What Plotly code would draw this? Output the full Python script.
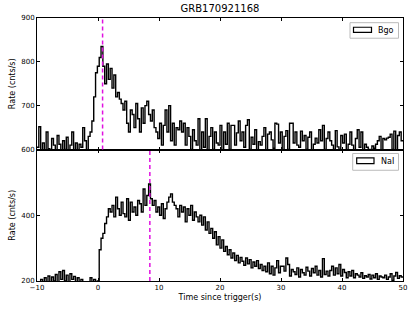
import plotly.graph_objects as go
from plotly.subplots import make_subplots

# ---- data ----
title_text = "GRB170921168"
bin_start = -10.0
bin_width = 0.3
bgo_peak_time = 0.75
nai_peak_time = 8.5

bgo_rate = [
    605, 652, 598, 615, 590, 640, 602, 588, 625, 610,
    595, 632, 612, 585, 620, 600, 628, 592, 610, 640,
    598, 615, 590, 612, 605, 650, 620, 595, 630, 640,
    665, 720, 775, 790, 810, 835, 790, 750, 795, 760,
    785, 740, 770, 720, 730, 715, 705, 690, 710, 660,
    640, 690, 680, 650, 705, 670, 640, 695, 660, 700,
    710, 680, 665, 690, 650, 640, 625, 660, 610, 655,
    690, 640, 700, 620, 660, 610, 650, 645, 665, 640,
    660, 610, 650, 630, 600, 645, 620, 610, 670, 595,
    640, 605, 670, 598, 630, 650, 600, 640, 615, 610,
    655, 590, 640, 612, 660, 600, 655, 655, 610, 638,
    665, 620, 640, 605, 655, 668, 600, 628, 612, 645,
    590, 618, 610, 630, 650, 598, 635, 640, 622, 603,
    660, 658, 615, 640, 595, 630, 643, 600, 660, 660,
    615, 640, 610, 605, 642, 620, 632, 600, 628, 640,
    597, 612, 626, 615, 645, 620, 655, 600, 625, 640,
    620, 610, 600, 643, 606, 600, 632, 615, 635, 590,
    612, 640, 610, 598, 625, 645, 605, 640, 598, 612,
    605, 600, 592, 608, 603, 612, 620, 630, 598, 625,
    622, 626, 628, 635, 600, 642, 598, 632, 640, 620,
]

nai_rate = [
    195, 188, 205, 192, 210, 198, 215, 190, 212, 200,
    220, 195, 228, 205, 232, 200, 218, 196, 222, 205,
    214, 198, 210, 190, 205, 198, 188, 192, 185, 210,
    195, 205, 190, 200, 295, 330, 345, 375, 395, 420,
    410, 430, 395, 455, 420, 400, 440, 405, 395, 450,
    385, 440, 410, 425, 400, 445, 435, 410, 480, 430,
    460, 495, 450, 430, 445, 410, 425, 400, 435, 390,
    420, 440, 455, 465, 440, 430, 420, 395, 430, 410,
    425, 380, 420, 400, 430, 385, 410, 395, 380, 400,
    370, 395, 355, 380, 345, 360, 330, 350, 310, 335,
    300, 325, 290, 305, 280, 295, 270, 285, 262, 278,
    255, 272, 260, 248, 270, 252, 265, 240, 258, 245,
    262, 238, 250, 232, 245, 228, 255, 222, 245, 218,
    240, 262, 225, 245, 245, 230, 270, 250, 215, 235,
    228, 220, 240, 212, 235, 225, 218, 242, 230, 215,
    238, 225, 245, 218, 232, 212, 268, 220, 230, 215,
    232, 245, 218, 240, 222, 250, 215, 235, 226, 210,
    228, 215, 232, 210, 222, 218, 212, 225, 208, 216,
    212, 220, 206, 218, 210, 222, 205, 215, 212, 210,
    218, 205, 212, 222, 202, 215, 226, 208, 216, 212,
]

x_ticks = [-10, 0, 10, 20, 30, 40, 50]
x_tick_labels = ["\u221210", "0", "10", "20", "30", "40", "50"]
bgo_ticks = [600, 700, 800, 900]
nai_ticks = [200, 400]
x_label = "Time since trigger(s)"
y_label = "Rate (cnts/s)"

# ---- build step coordinates ----
def edges(n):
    return [bin_start + i * bin_width for i in range(n + 1)]

bgo_x = edges(len(bgo_rate))
bgo_y = bgo_rate + [bgo_rate[-1]]
nai_x = edges(len(nai_rate))
nai_y = nai_rate + [nai_rate[-1]]

FONT = "DejaVu Sans"
fig = make_subplots(rows=2, cols=1, vertical_spacing=0)

fig.add_trace(go.Scatter(x=bgo_x, y=bgo_y, mode="lines", line=dict(color="black", width=1.4, shape="hv"),
                         name="Bgo", showlegend=False, hoverinfo="skip"), row=1, col=1)
fig.add_trace(go.Scatter(x=nai_x, y=nai_y, mode="lines", line=dict(color="black", width=1.4, shape="hv"),
                         name="NaI", showlegend=False, hoverinfo="skip"), row=2, col=1)

axis_common = dict(showline=True, linecolor="black", linewidth=1, mirror="ticks", ticks="inside",
                   ticklen=3, tickcolor="black", showgrid=False, zeroline=False, automargin=False,
                   tickfont=dict(family=FONT, size=7, color="black"))

fig.update_xaxes(range=[-10, 50], tickvals=x_ticks, ticktext=x_tick_labels, **axis_common)
fig.update_xaxes(showticklabels=False, row=1, col=1)
fig.update_xaxes(title=dict(text=x_label, font=dict(family=FONT, size=8, color="black"), standoff=2), row=2, col=1)
fig.update_yaxes(range=[600, 900], tickvals=bgo_ticks, row=1, col=1, **axis_common)
fig.update_yaxes(range=[200, 600], tickvals=nai_ticks, row=2, col=1, **axis_common)
fig.update_yaxes(title=dict(text=y_label, font=dict(family=FONT, size=8, color="black"), standoff=4))

# dashed peak markers
fig.add_shape(type="line", xref="x", yref="y domain", x0=bgo_peak_time, x1=bgo_peak_time, y0=0, y1=1,
              line=dict(color="#e010e0", width=1.5, dash="4px,3px"))
fig.add_shape(type="line", xref="x2", yref="y2 domain", x0=nai_peak_time, x1=nai_peak_time, y0=0, y1=1,
              line=dict(color="#e010e0", width=1.5, dash="4px,3px"))

# legends drawn as boxes with patch and text
def legend_box(xr, yr, label, box, patch, tx):
    fig.add_shape(type="rect", xref=xr, yref=yr, x0=box[0], x1=box[1], y0=box[2], y1=box[3],
                  line=dict(color="#bbbbbb", width=1), fillcolor="white", layer="above")
    fig.add_shape(type="rect", xref=xr, yref=yr, x0=patch[0], x1=patch[1], y0=patch[2], y1=patch[3],
                  line=dict(color="black", width=1.2), fillcolor="white", layer="above")
    fig.add_annotation(xref=xr, yref=yr, x=tx[0], y=tx[1], text=label, showarrow=False, xanchor="left",
                       yanchor="middle", font=dict(family=FONT, size=8, color="black"))

# pixel-to-domain: x plot spans 37..403 (366 px); top y 18..150, bottom 150..281
def dx(px):
    return (px - 37) / 366.0

def dy_top(py):
    return 1 - (py - 18) / 132.0

def dy_bot(py):
    return 1 - (py - 150) / 131.0

legend_box("x domain", "y domain", "Bgo",
           (dx(350), dx(398.5), dy_top(38.3), dy_top(22.7)),
           (dx(353.5), dx(371.5), dy_top(32.5), dy_top(27.3)),
           (dx(376), dy_top(30.2)))
legend_box("x2 domain", "y2 domain", "NaI",
           (dx(352.7), dx(398.5), dy_bot(170.7), dy_bot(154)),
           (dx(356.7), dx(374), dy_bot(164), dy_bot(158.3)),
           (dx(379), dy_bot(161.5)))

fig.update_layout(
    width=415, height=312,
    margin=dict(l=37, r=12, t=18, b=31),
    paper_bgcolor="white", plot_bgcolor="white",
    showlegend=False, hovermode=False,
    font=dict(family=FONT, color="black"),
    title=dict(text=title_text, x=0.53, xanchor="center", y=1 - 8.5 / 312, yanchor="middle",
               font=dict(family=FONT, size=10, color="black")),
)

fig.write_html("out.html", config={"displayModeBar": False},
               post_script="document.body.style.margin='0';document.body.style.overflow='hidden';")
